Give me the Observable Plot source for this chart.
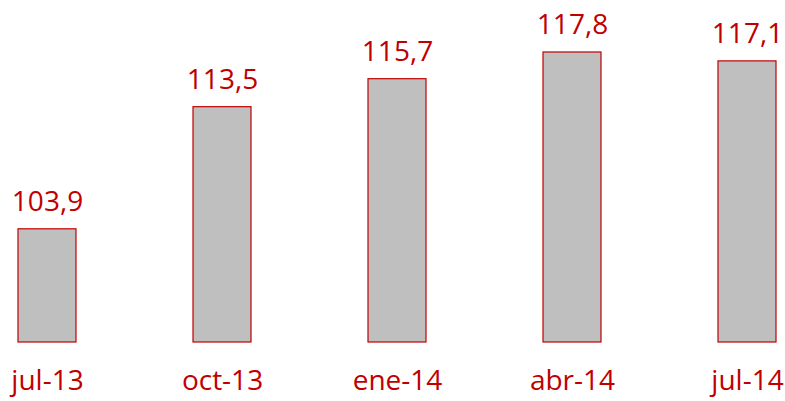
<!DOCTYPE html>
<html>
<head>
<meta charset="utf-8">
<script src="https://cdn.jsdelivr.net/npm/d3@7"></script>
<script src="https://cdn.jsdelivr.net/npm/@observablehq/plot@0.6"></script>
<style>
  html, body { margin: 0; padding: 0; background: #fff; }
</style>
</head>
<body>
<div id="chart"></div>
<script>
const periods = ["jul-13", "oct-13", "ene-14", "abr-14", "jul-14"];
const values = [103.9, 113.5, 115.7, 117.8, 117.1];
const labels = ["103,9", "113,5", "115,7", "117,8", "117,1"];

const data = periods.map((p, i) => ({period: p, value: values[i], label: labels[i]}));

const red = "#c00000";
const chart = Plot.plot({
  width: 785,
  height: 401,
  marginTop: 0,
  marginBottom: 59,
  marginLeft: 0,
  marginRight: 0,
  style: {fontFamily: "'Open Sans', sans-serif", color: red, background: "#fff"},
  x: {domain: periods, range: [18, 776], paddingInner: 0.669, paddingOuter: 0},
  y: {domain: [95, 120], range: [342, 24], axis: null},
  marks: [
    Plot.barY(data, {x: "period", y1: 95, y2: "value", fill: "#bfbfbf", stroke: red, strokeWidth: 1.2}),
    Plot.text(data, {x: "period", y: "value", text: "label", dy: -18, lineAnchor: "bottom", fill: red, fontSize: 28}),
    Plot.axisX({tickSize: 0, tickPadding: 28, fontSize: 28, fill: red, label: null})
  ]
});
document.getElementById("chart").appendChild(chart);
</script>
</body>
</html>
